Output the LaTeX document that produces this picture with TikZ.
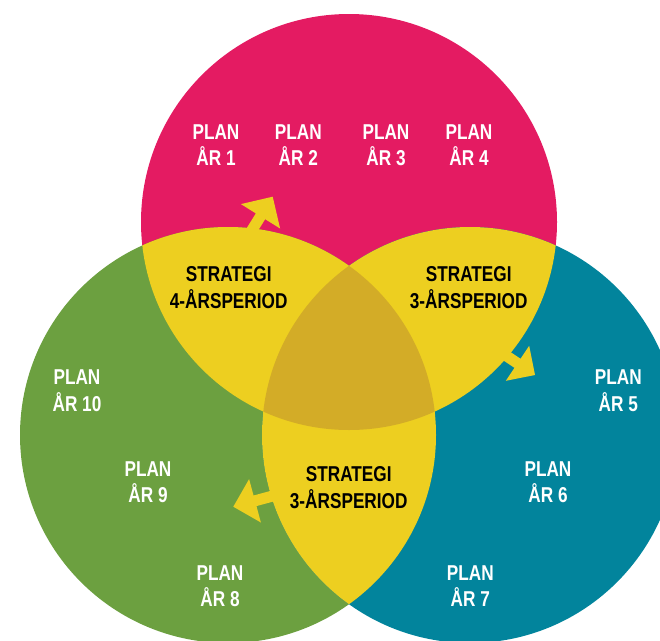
\documentclass[tikz,border=0pt]{standalone}
\usepackage{fontspec}
\newfontfamily\lblfont[FakeStretch=0.8]{Liberation Sans}
\usetikzlibrary{calc}
\definecolor{cpink}{HTML}{E41B62}
\definecolor{cgreen}{HTML}{6CA040}
\definecolor{cteal}{HTML}{02849C}
\definecolor{cyel}{HTML}{EDCF20}
\definecolor{cgold}{HTML}{D3AC27}
\newcommand{\yelarrow}[3]{%
  \coordinate (#1m) at #2;
  \coordinate (#1t) at #3;
  \coordinate (#1s) at ($(#1m)!-30pt!(#1t)$);
  \fill[cyel] ($(#1s)!5.5pt!90:(#1t)$) -- ($(#1m)!5.5pt!90:(#1t)$)
     -- ($(#1m)!1!90:(#1t)$) -- (#1t) -- ($(#1m)!1!-90:(#1t)$)
     -- ($(#1m)!5.5pt!-90:(#1t)$) -- ($(#1s)!5.5pt!-90:(#1t)$) -- cycle;
}
\begin{document}
\begin{tikzpicture}[x=1pt,y=-1pt,
  lbl/.style={align=center,inner sep=0pt,font=\lblfont\bfseries\fontsize{21.5}{26.5}\selectfont},
  plan/.style={lbl,text=white},
  strat/.style={lbl,text=black}]
\useasboundingbox (0,0) rectangle (660,640);
\clip (0,0) rectangle (660,640);
\def\R{208}
\coordinate (ct) at (349,222);
\coordinate (cl) at (228,435);
\coordinate (cr) at (470,435);
% circles
\fill[cpink] (ct) circle (\R);
\fill[cgreen] (cl) circle (\R);
\fill[cteal] (cr) circle (\R);
% pairwise overlaps
\begin{scope}
  \clip (ct) circle (\R);
  \fill[cyel] (cl) circle (\R);
  \fill[cyel] (cr) circle (\R);
\end{scope}
\begin{scope}
  \clip (cl) circle (\R);
  \fill[cyel] (cr) circle (\R);
\end{scope}
% triple overlap
\begin{scope}
  \clip (ct) circle (\R);
  \clip (cl) circle (\R);
  \fill[cgold] (cr) circle (\R);
\end{scope}
% arrows
\yelarrow{a}{(260.5,216.3)}{(272.7,196.7)}
\yelarrow{b}{(517.5,363.3)}{(535,375)}
\yelarrow{c}{(255,500.8)}{(233.3,506.7)}
% labels
\node[plan] (p1) at (216,145) {PLAN\\ÅR 1};
\node[plan] (p2) at (298.3,145) {PLAN\\ÅR 2};
\node[plan] (p3) at (386,145) {PLAN\\ÅR 3};
\node[plan] (p4) at (469,145) {PLAN\\ÅR 4};
\node[plan] (p5) at (618.3,390.8) {PLAN\\ÅR 5};
\node[plan] (p6) at (548,482) {PLAN\\ÅR 6};
\node[plan] (p7) at (470.3,586.3) {PLAN\\ÅR 7};
\node[plan] (p8) at (220,586.3) {PLAN\\ÅR 8};
\node[plan] (p9) at (148,482) {PLAN\\ÅR 9};
\node[plan] (p10) at (77,390.8) {PLAN\\ÅR 10};
\node[strat] (s1) at (228.7,287.5) {STRATEGI\\4-ÅRSPERIOD};
\node[strat] (s2) at (468.7,287.5) {STRATEGI\\3-ÅRSPERIOD};
\node[strat] (s3) at (348.7,487.5) {STRATEGI\\3-ÅRSPERIOD};
\end{tikzpicture}
\end{document}
